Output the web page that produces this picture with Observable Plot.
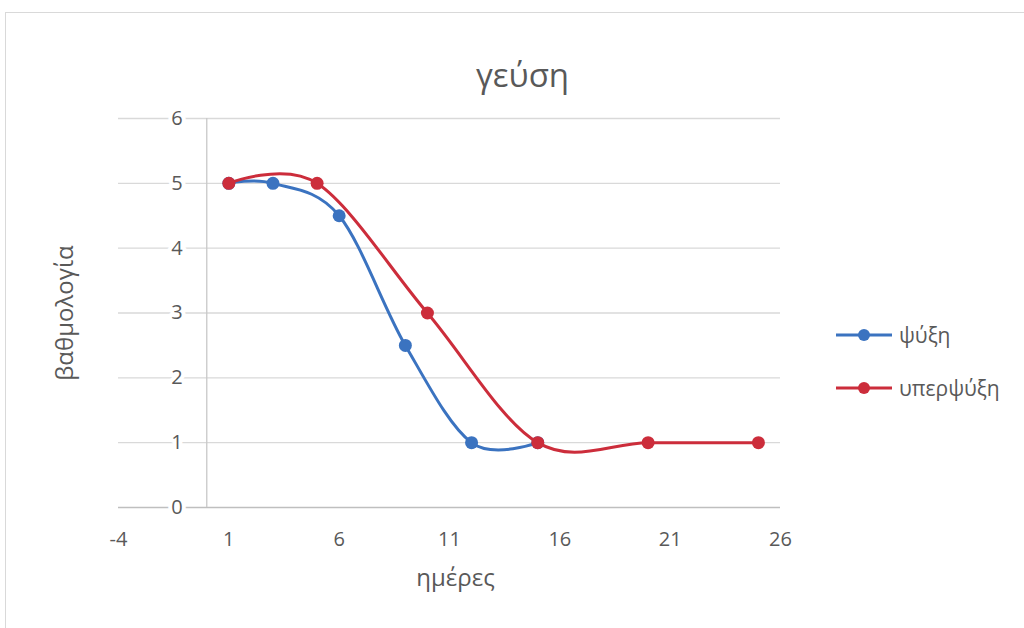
<!DOCTYPE html>
<html>
<head>
<meta charset="utf-8">
<script src="https://cdn.jsdelivr.net/npm/d3@7"></script>
<script src="https://cdn.jsdelivr.net/npm/@observablehq/plot@0.6"></script>
<style>
  html, body { margin: 0; padding: 0; background: #fff; }
  #wrap { position: relative; width: 1024px; height: 628px; overflow: hidden; font-family: "Open Sans", "Noto Sans", sans-serif; }
  #frame { position: absolute; left: 5px; top: 12px; width: 1030px; height: 640px; border: 1px solid #d9d9d9; box-sizing: border-box; pointer-events: none; }
  #chart { position: absolute; left: 0; top: 0; }
  #legend { position: absolute; left: 835px; top: 319px; font-size: 21px; color: #595959; }
  .item { display: flex; align-items: center; height: 32px; margin-bottom: 21px; }
  .item svg { margin-right: 6px; }
</style>
</head>
<body>
<div id="wrap">
  <div id="chart"></div>
  <div id="frame"></div>
  <div id="legend"></div>
</div>
<script>
const title = "γεύση";
const xTitle = "ημέρες";
const yTitle = "βαθμολογία";
const seriesNames = ["ψύξη", "υπερψύξη"];
const seriesColors = ["#3b73c0", "#cc2d3b"];
const psyxiDays = [1, 3, 6, 9, 12, 15];
const psyxiScores = [5, 5, 4.5, 2.5, 1, 1];
const yperDays = [1, 5, 10, 15, 20, 25];
const yperScores = [5, 5, 3, 1, 1, 1];
const xTicks = [-4, 1, 6, 11, 16, 21, 26];
const yTicks = [0, 1, 2, 3, 4, 5, 6];

const s1 = psyxiDays.map((d, i) => ({day: d, score: psyxiScores[i]}));
const s2 = yperDays.map((d, i) => ({day: d, score: yperScores[i]}));
const gridTicks = yTicks.filter(t => t > 0);

const plot = Plot.plot({
  width: 1024,
  height: 628,
  marginTop: 118,
  marginBottom: 121,
  marginLeft: 118,
  marginRight: 244,
  style: {fontFamily: "'Open Sans', 'Noto Sans', sans-serif", color: "#595959", background: "transparent"},
  x: {domain: [-4, 26]},
  y: {domain: [0, 6], axis: null},
  marks: [
    Plot.ruleY(gridTicks, {y: d => d, x1: -4, x2: 26, stroke: "#d9d9d9", strokeWidth: 1.3}),
    Plot.ruleY([0], {x1: -4, x2: 26, stroke: "#bfbfbf", strokeWidth: 1.5}),
    Plot.ruleX([0], {y1: 0, y2: 6, stroke: "#c8c8c8", strokeWidth: 1.3}),
    Plot.text(yTicks, {x: 0, y: d => d, text: d => String(d), dx: -24, textAnchor: "end", fontSize: 20, fill: "#595959", stroke: "white", strokeWidth: 8, paintOrder: "stroke"}),
    Plot.axisX({ticks: xTicks, tickSize: 0, tickPadding: 24, fontSize: 20, label: null, tickFormat: d => String(d)}),
    Plot.line(s1, {x: "day", y: "score", curve: "cardinal", tension: 0, stroke: seriesColors[0], strokeWidth: 3}),
    Plot.dot(s1, {x: "day", y: "score", r: 6.5, fill: seriesColors[0]}),
    Plot.line(s2, {x: "day", y: "score", curve: "cardinal", tension: 0, stroke: seriesColors[1], strokeWidth: 3}),
    Plot.dot(s2, {x: "day", y: "score", r: 6.5, fill: seriesColors[1]}),
    Plot.text([yTitle], {frameAnchor: "left", text: d => d, dx: -53, rotate: -90, textAnchor: "middle", fontSize: 24, fill: "#595959"}),
    Plot.text([xTitle], {frameAnchor: "bottom", text: d => d, dy: 78, dx: 6, fontSize: 24, fill: "#595959"}),
    Plot.text([title], {frameAnchor: "top", text: d => d, dy: -55, dx: 73, fontSize: 33, fill: "#595959"})
  ]
});
document.getElementById("chart").appendChild(plot);

const legend = document.getElementById("legend");
seriesNames.forEach((name, i) => {
  const item = document.createElement("div");
  item.className = "item";
  item.innerHTML = `<svg width="58" height="16"><line x1="1" y1="8" x2="57" y2="8" stroke="${seriesColors[i]}" stroke-width="3"/><circle cx="29" cy="8" r="6" fill="${seriesColors[i]}"/></svg><span>${name}</span>`;
  legend.appendChild(item);
});
</script>
</body>
</html>
